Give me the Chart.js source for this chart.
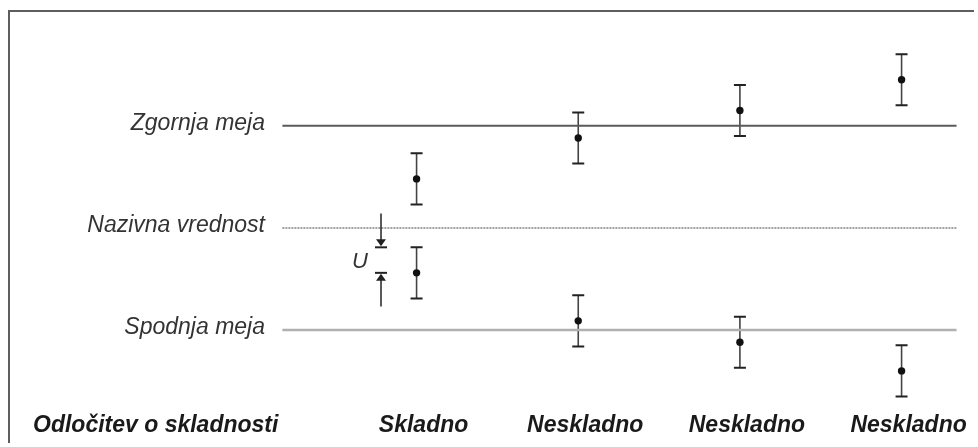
<!DOCTYPE html>
<html>
<head>
<meta charset="utf-8">
<script src="https://cdn.jsdelivr.net/npm/chart.js@4/dist/chart.umd.min.js"></script>
<style>
  html, body { margin: 0; padding: 0; background: #fff; }
  #wrap { width: 978px; height: 447px; position: relative; }
</style>
</head>
<body>
<div id="wrap"><canvas id="chart"></canvas></div>
<script>
// podatki
const decisions = ['Skladno', 'Neskladno', 'Neskladno', 'Neskladno'];
const columns = [1, 2, 3, 4];
const limitLabels = ['Zgornja meja', 'Nazivna vrednost', 'Spodnja meja'];
const limitValues = [1, 0, -1];
const upperResults = [0.48, 0.88, 1.15, 1.45];
const lowerResults = [-0.44, -0.91, -1.12, -1.40];
const uncertainty = 0.25;
const decisionTitle = 'Odločitev o skladnosti';
const uLabel = 'U';

const lineStart = 0.17;
const lineEnd = 4.34;
const uArrowX = 0.78;
const uArrowTail = 0.33;

const limitStyles = [
  { color: '#5a5a5a', width: 2, dash: [] },
  { color: '#a0a0a0', width: 2, dash: [2, 1] },
  { color: '#b0b0b0', width: 2.5, dash: [] }
];

const limitDatasets = limitValues.map((v, i) => ({
  type: 'line',
  data: [{ x: lineStart, y: v }, { x: lineEnd, y: v }],
  borderColor: limitStyles[i].color,
  borderWidth: limitStyles[i].width,
  borderDash: limitStyles[i].dash,
  pointRadius: 0,
  fill: false
}));

const pointStyle = {
  type: 'scatter',
  pointRadius: 3.7,
  pointBackgroundColor: '#111',
  pointBorderColor: '#111',
  pointBorderWidth: 0
};

const drawArrow = (ctx, x, tipY, tailY) => {
  const dir = tailY < tipY ? 1 : -1; // 1 = kaže navzdol
  ctx.strokeStyle = '#222';
  ctx.fillStyle = '#222';
  ctx.lineWidth = 1.5;
  ctx.beginPath();
  ctx.moveTo(x, tailY);
  ctx.lineTo(x, tipY - dir * 6);
  ctx.stroke();
  ctx.beginPath();
  ctx.moveTo(x - 5, tipY - dir * 8);
  ctx.lineTo(x + 5, tipY - dir * 8);
  ctx.lineTo(x, tipY - dir * 1);
  ctx.closePath();
  ctx.fill();
  ctx.lineWidth = 2;
  ctx.beginPath();
  ctx.moveTo(x - 6, tipY);
  ctx.lineTo(x + 6, tipY);
  ctx.stroke();
};

const decorations = {
  id: 'decorations',
  beforeDatasetsDraw(chart) {
    const { ctx, chartArea, scales: { x, y } } = chart;
    ctx.save();
    // okvir
    ctx.strokeStyle = '#5e5e5e';
    ctx.lineWidth = 2;
    ctx.beginPath();
    ctx.moveTo(9, chartArea.bottom);
    ctx.lineTo(9, 11);
    ctx.lineTo(chartArea.right, 11);
    ctx.stroke();

    // merilne negotovosti
    [upperResults, lowerResults].forEach(series => {
      series.forEach((v, i) => {
        const px = x.getPixelForValue(columns[i]);
        const top = y.getPixelForValue(v + uncertainty);
        const bot = y.getPixelForValue(v - uncertainty);
        ctx.strokeStyle = '#444';
        ctx.lineWidth = 1.6;
        ctx.beginPath();
        ctx.moveTo(px, top);
        ctx.lineTo(px, bot);
        ctx.stroke();
        ctx.strokeStyle = '#222';
        ctx.lineWidth = 2;
        ctx.beginPath();
        ctx.moveTo(px - 6, top);
        ctx.lineTo(px + 6, top);
        ctx.moveTo(px - 6, bot);
        ctx.lineTo(px + 6, bot);
        ctx.stroke();
      });
    });
    ctx.restore();
  },
  afterDraw(chart) {
    const { ctx, chartArea, scales: { x, y } } = chart;
    ctx.save();
    ctx.fillStyle = '#333';

    // oznake mej
    ctx.font = 'italic 23px "Liberation Sans", Arial, sans-serif';
    ctx.textAlign = 'right';
    ctx.textBaseline = 'alphabetic';
    limitLabels.forEach((t, i) => {
      ctx.fillText(t, 265, y.getPixelForValue(limitValues[i]) + 4);
    });

    // U puščici
    const ax = x.getPixelForValue(uArrowX);
    const ref = lowerResults[0];
    drawArrow(ctx, ax, y.getPixelForValue(ref + uncertainty), y.getPixelForValue(ref + uncertainty + uArrowTail));
    drawArrow(ctx, ax, y.getPixelForValue(ref), y.getPixelForValue(ref - uArrowTail));
    ctx.fillStyle = '#333';
    ctx.font = 'italic 22px "Liberation Sans", Arial, sans-serif';
    ctx.textAlign = 'center';
    ctx.fillText(uLabel, ax - 21, y.getPixelForValue(ref + uncertainty / 2) + 8);

    // odločitve
    const baseY = chartArea.bottom - 11;
    ctx.fillStyle = '#1a1a1a';
    ctx.font = 'italic bold 23px "Liberation Sans", Arial, sans-serif';
    ctx.textAlign = 'left';
    ctx.fillText(decisionTitle, 33, baseY);
    ctx.textAlign = 'center';
    decisions.forEach((t, i) => {
      ctx.fillText(t, x.getPixelForValue(columns[i]) + 7, baseY);
    });
    ctx.restore();
  }
};

new Chart(document.getElementById('chart'), {
  type: 'scatter',
  data: {
    datasets: [
      ...limitDatasets,
      { ...pointStyle, data: upperResults.map((v, i) => ({ x: columns[i], y: v })) },
      { ...pointStyle, data: lowerResults.map((v, i) => ({ x: columns[i], y: v })) }
    ]
  },
  options: {
    responsive: true,
    maintainAspectRatio: false,
    animation: false,
    layout: { padding: 0 },
    plugins: { legend: { display: false }, tooltip: { enabled: false } },
    scales: {
      x: { type: 'linear', display: false, min: -1.552, max: 4.448 },
      y: { type: 'linear', display: false, min: -2.106, max: 2.1923 }
    }
  },
  plugins: [decorations]
});
</script>
</body>
</html>
